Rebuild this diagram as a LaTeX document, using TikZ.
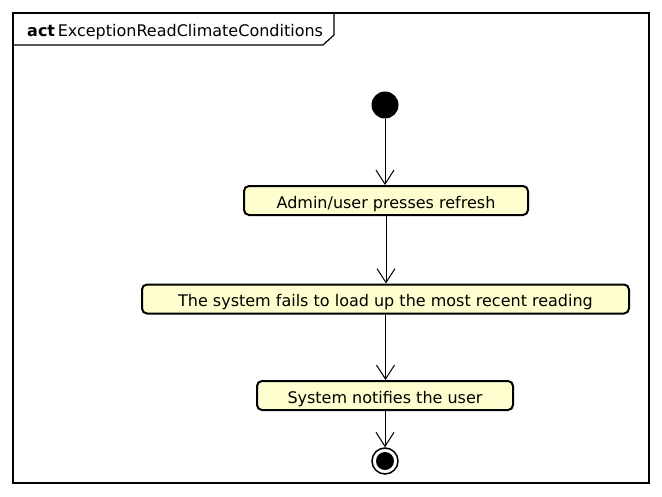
\documentclass[tikz,border=0pt]{standalone}
\usepackage{fontspec}
\setmainfont{DejaVu Sans}
\usepackage{tikz}
\usetikzlibrary{arrows.meta, positioning}
\definecolor{actfill}{HTML}{FEFECE}
\tikzstyle{action} = [
  rectangle, rounded corners=5pt, draw=black, fill=actfill,
  line width=2pt, text centered, minimum height=29pt,
  text height=15pt, text depth=0pt,
  font=\fontsize{16}{18}\selectfont
]
\tikzstyle{flow} = [-{Straight Barb[length=14pt, width=18pt]}, line width=1pt]

\begin{document}
\begin{tikzpicture}[x=1pt, y=-1pt]
  \useasboundingbox (0,0) rectangle (662,496);

  % Frame
  \draw[line width=1.2pt] (13,13) rectangle (649,483);
  \draw[line width=1.2pt] (13,45) -- (323,45) -- (334,35) -- (334,13);
  \node[anchor=base west, inner sep=0pt, font=\fontsize{16}{18}\selectfont] (title) at (27,36)
    {\textbf{act}\,ExceptionReadClimateConditions};

  % Nodes
  \node[circle, fill=black, minimum size=27pt, inner sep=0pt] (start) at (385,105) {};
  \node[action, minimum width=284pt] (refresh) at (386,200.5) {Admin/user presses refresh};
  \node[action, minimum width=487pt] (fails) at (385.5,299) {The system fails to load up the most recent reading};
  \node[action, minimum width=256pt] (notify) at (385,395.5) {System notifies the user};
  \node[circle, draw=black, fill=white, line width=1.5pt, minimum size=26pt, inner sep=0pt] (stop) at (385,461) {};
  \node[circle, fill=black, minimum size=18pt, inner sep=0pt] (stopdot) at (stop) {};

  % Flows
  \draw[flow] (start) -- (start |- refresh.north);
  \draw[flow] (refresh) -- (refresh |- fails.north);
  \draw[flow] (fails) -- (fails |- notify.north);
  \draw[flow] (notify) -- (notify |- stop.north);

\end{tikzpicture}
\end{document}
